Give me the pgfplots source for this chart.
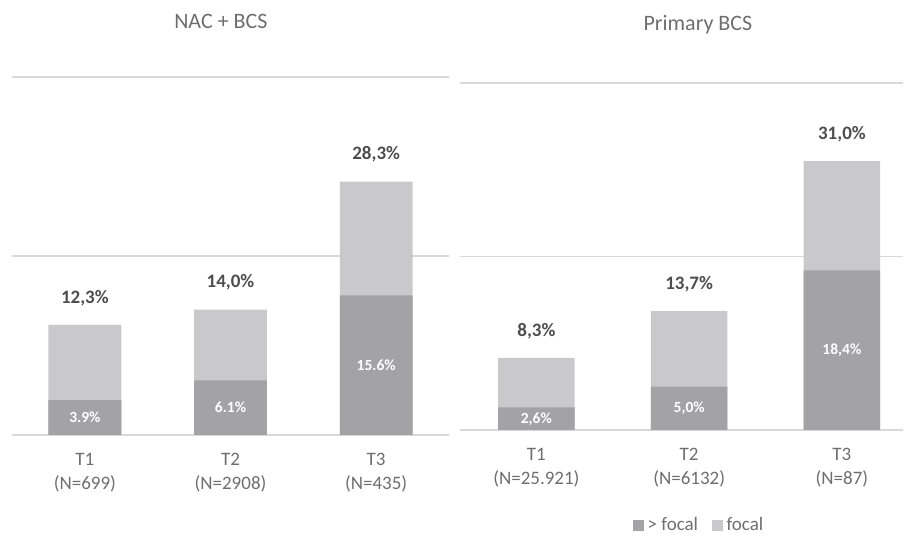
\documentclass[border=0pt]{standalone}
\usepackage{pgfplots}
\pgfplotsset{compat=1.18}
\usepackage{fontspec}
\setmainfont{Carlito}
\definecolor{dark}{HTML}{A3A3A6}
\definecolor{light}{HTML}{C9C9CB}
\definecolor{gridc}{HTML}{D9D9D9}
\definecolor{txt}{HTML}{6E6E6E}
\definecolor{lab}{HTML}{4D4D4D}
\pgfplotstableread{
x y lab
0 12.3 12,3\%
1 14.0 14,0\%
2 28.3 28,3\%
}\leftTotal
\pgfplotstableread{
x y lab
0 3.9 3.9\%
1 6.1 6.1\%
2 15.6 15.6\%
}\leftDark
\pgfplotstableread{
x y lab
0 1.95 3.9\%
1 3.05 6.1\%
2 7.8 15.6\%
}\leftInner
\pgfplotstableread{
x y lab
0 8.3 8,3\%
1 13.7 13,7\%
2 31.0 31,0\%
}\rightTotal
\pgfplotstableread{
x y lab
0 2.6 2,6\%
1 5.0 5,0\%
2 18.4 18,4\%
}\rightDark
\pgfplotstableread{
x y lab
0 1.3 2,6\%
1 2.5 5,0\%
2 9.2 18,4\%
}\rightInner
\pgfplotsset{
  mystyle/.style={
    scale only axis,
    anchor=south west,
    ybar, bar width=0.5, bar shift=0pt,
    ymin=0, ymax=40,
    ytick={0,20,40}, yticklabels={},
    ymajorgrids, grid style={gridc, line width=1.3pt},
    axis line style={draw=none},
    major tick length=0pt,
    xtick={0,1,2},
    xticklabel style={align=center, font=\fontsize{19}{24}\selectfont, text=txt, inner sep=0pt, yshift=-18pt},
    title style={font=\fontsize{22}{26}\selectfont, text=txt, anchor=center},
    clip=false,
  },
  total/.style={fill=light, draw=none, nodes near coords, point meta=explicit symbolic,
     every node near coord/.append style={anchor=center, yshift=27pt, font=\bfseries\fontsize{19}{23}\selectfont, text=lab}, forget plot},
  part/.style={fill=dark, draw=none, forget plot},
  inner/.style={draw=none, fill=none, nodes near coords, point meta=explicit symbolic,
     every node near coord/.append style={anchor=center, font=\bfseries\fontsize{15.5}{18}\selectfont, text=white}, forget plot},
}
\begin{document}
\begin{tikzpicture}
\path[use as bounding box] (0pt,0pt) rectangle (904pt,540pt);
\begin{axis}[mystyle,
  at={(12pt,105pt)}, width=437pt, height=358pt,
  xmin=-0.5, xmax=2.5,
  xticklabels={{T1\\(N=699)},{T2\\(N=2908)},{T3\\(N=435)}},
  title={NAC + BCS},
  title style={at={(0.478,1)}, yshift=50pt},
]
\addplot[total] table[x=x,y=y,meta=lab]{\leftTotal};
\addplot[part] table[x=x,y=y]{\leftDark};
\addplot[inner] table[x=x,y=y,meta=lab]{\leftInner};
\end{axis}
\begin{axis}[mystyle,
  at={(460pt,110pt)}, width=443pt, height=347pt,
  xmin=-0.5, xmax=2.4,
  xticklabels={{T1\\(N=25.921)},{T2\\(N=6132)},{T3\\(N=87)}},
  title={Primary BCS},
  title style={at={(0.537,1)}, yshift=52pt},
  legend image code/.code={\fill[#1] (0pt,-5pt) rectangle (10pt,5pt);},
  legend style={at={(0.54,-0.274)}, anchor=center, draw=none, fill=none,
    font=\fontsize{19}{23}\selectfont, text=txt, legend columns=2,
    /tikz/every odd column/.append style={column sep=2pt},
    /tikz/every even column/.append style={column sep=12pt}},
]
\addplot[total] table[x=x,y=y,meta=lab]{\rightTotal};
\addplot[part] table[x=x,y=y]{\rightDark};
\addplot[inner] table[x=x,y=y,meta=lab]{\rightInner};
\addlegendimage{dark}
\addlegendentry{> focal}
\addlegendimage{light}
\addlegendentry{focal}
\end{axis}
\end{tikzpicture}
\end{document}
